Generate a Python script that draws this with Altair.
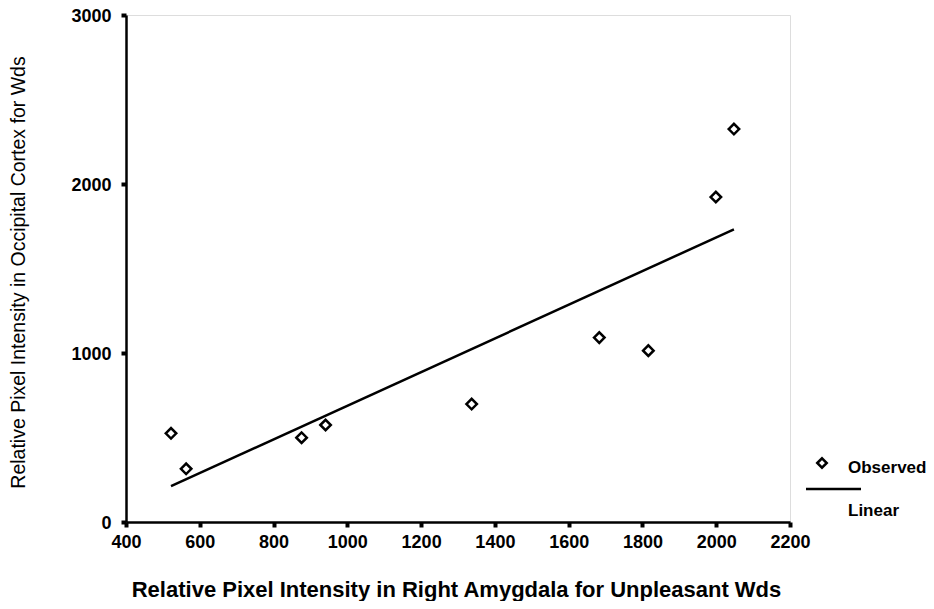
import altair as alt
import pandas as pd

amygdala = [522, 563, 876, 941, 1337, 1683, 1816, 1999, 2048]
occipital = [525, 315, 499, 574, 698, 1091, 1014, 1923, 2325]

x_ticks = [400, 600, 800, 1000, 1200, 1400, 1600, 1800, 2000, 2200]
y_ticks = [0, 1000, 2000, 3000]

legend_labels = ["Observed", "Linear"]

df = pd.DataFrame({"x": amygdala, "y": occipital})

FONT = "Liberation Sans"
W, H = 664, 507

xscale = alt.Scale(domain=[400, 2200], nice=False, zero=False)
yscale = alt.Scale(domain=[0, 3000], nice=False, zero=False)

xaxis = alt.Axis(
    values=x_ticks, format="d", grid=False, domainColor="black", domainWidth=2.5,
    tickColor="black", tickSize=5, tickWidth=4, labelPadding=6,
    labelFont=FONT, labelFontSize=18, labelFontWeight="bold", labelColor="black",
    title="Relative Pixel Intensity in Right Amygdala for Unpleasant Wds",
    titleFont=FONT, titleFontSize=22, titleFontWeight="bold", titleColor="black",
    titleX=W / 2 - 2, titleY=74, titleBaseline="alphabetic", titleAlign="center",
    labelFlush=False,
)
yaxis = alt.Axis(
    values=y_ticks, format="d", grid=False, domainColor="black", domainWidth=2.5,
    tickColor="black", tickSize=5, tickWidth=4, labelPadding=10,
    labelFont=FONT, labelFontSize=18, labelFontWeight="bold", labelColor="black",
    labelBaseline="alphabetic", labelOffset=6,
    title="Relative Pixel Intensity in Occipital Cortex for Wds",
    titleFont=FONT, titleFontSize=19.5, titleFontWeight="normal", titleColor="black",
    titleX=-108, titleY=257, titleAngle=270, titleAlign="center", titleBaseline="middle",
    labelFlush=False,
)

base = alt.Chart(df)

points = base.mark_point(
    shape="diamond", filled=False, stroke="black", strokeWidth=2.5, size=110, opacity=1
).encode(
    x=alt.X("x:Q", scale=xscale, axis=xaxis),
    y=alt.Y("y:Q", scale=yscale, axis=yaxis),
)

line = base.transform_regression("x", "y").mark_line(
    color="black", strokeWidth=2.5
).encode(
    x=alt.X("x:Q", scale=xscale),
    y=alt.Y("y:Q", scale=yscale),
)

leg_df = alt.Data(values=[{"a": 1}])
leg_point = alt.Chart(leg_df).mark_point(
    shape="diamond", filled=False, stroke="black", strokeWidth=2.5, size=90, opacity=1
).encode(x=alt.value(696), y=alt.value(448))
leg_text1 = alt.Chart(leg_df).mark_text(
    text=legend_labels[0], font=FONT, fontSize=17, fontWeight="bold", align="left",
    baseline="middle", color="black"
).encode(x=alt.value(722), y=alt.value(453))
leg_rule = alt.Chart(leg_df).mark_rule(color="black", strokeWidth=2.5).encode(
    x=alt.value(680), x2=alt.value(735), y=alt.value(474)
)
leg_text2 = alt.Chart(leg_df).mark_text(
    text=legend_labels[1], font=FONT, fontSize=17, fontWeight="bold", align="left",
    baseline="middle", color="black"
).encode(x=alt.value(722), y=alt.value(496))

chart = alt.layer(line, points, leg_point, leg_text1, leg_rule, leg_text2).properties(
    width=W, height=H,
    autosize=alt.AutoSizeParams(type="none"),
    padding={"left": 118, "top": 7, "right": 136, "bottom": 79},
).configure_view(stroke="black", strokeWidth=2.5).configure(background="white")

chart.save("out.html", embed_options={"renderer": "svg", "actions": False})
